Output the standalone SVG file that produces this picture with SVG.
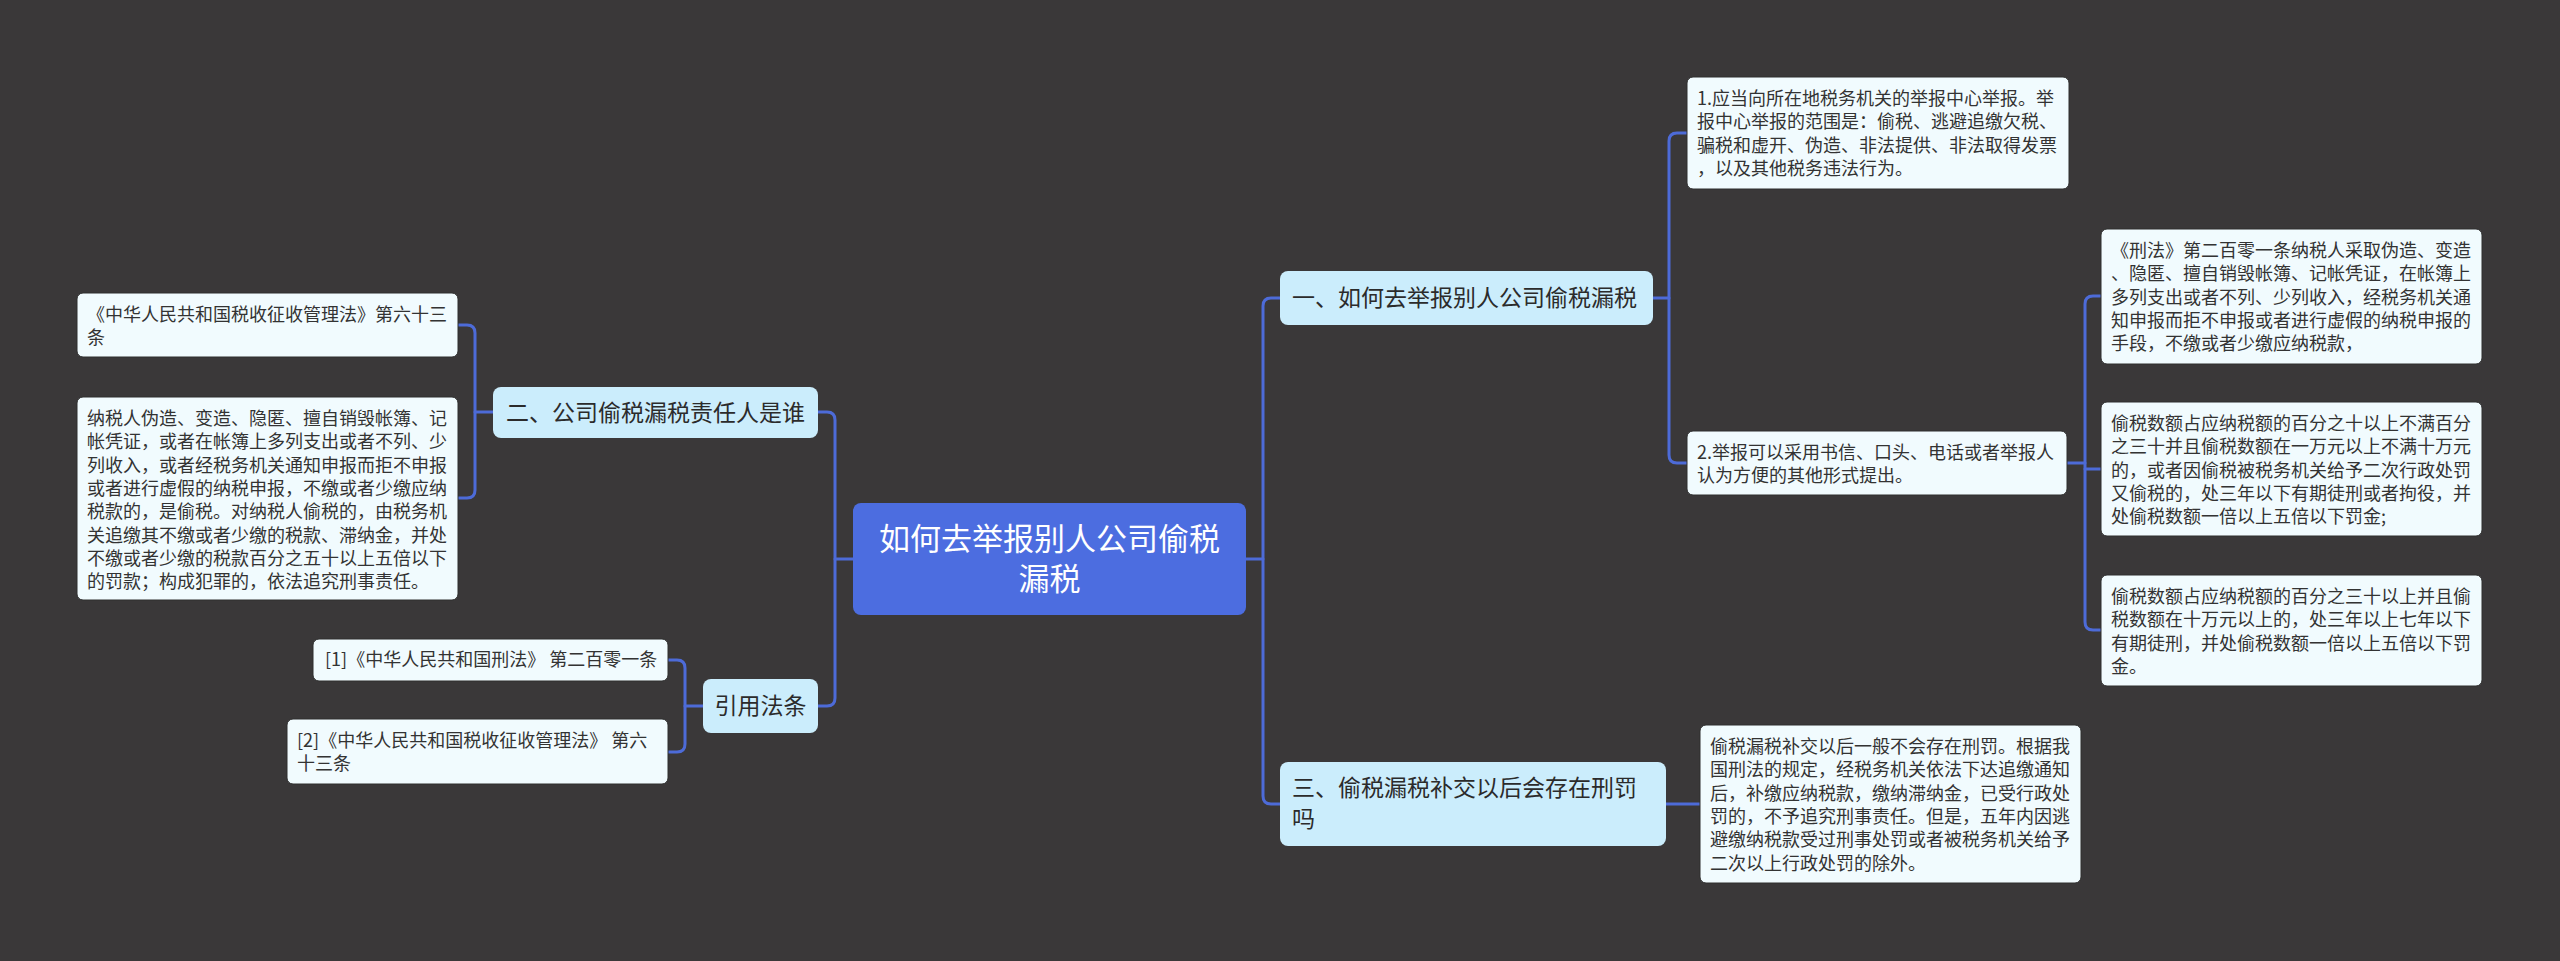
<svg xmlns="http://www.w3.org/2000/svg" width="2560" height="961" viewBox="0 0 2560 961">
<style>
.bg{fill:#3a3839}
.conn path{fill:none;stroke:#4d6bd8;stroke-width:3;stroke-linecap:round}
.root rect{fill:#4c6de0}
.root text{fill:#ffffff;font-size:31px;text-anchor:middle}
.branch rect{fill:#cbedfc}
.branch text{fill:#2b2b2b;font-size:23px}
.leaf rect{fill:#f1fbfe;stroke:#2f2f2f;stroke-width:1}
.leaf text{fill:#333333;font-size:18px}
text{font-family:"Noto Sans CJK SC","Noto Sans",sans-serif}
</style>
<rect class="bg" x="0" y="0" width="2560" height="961"/>
<g class="conn" id="connectors">
<path d="M853,559 H835"/>
<path d="M818,412 H827 Q835,412 835,420 V698 Q835,706 827,706 H818"/>
<path d="M493,412 H475"/>
<path d="M458,325 H467 Q475,325 475,333 V490 Q475,498 467,498 H458"/>
<path d="M703,706 H685"/>
<path d="M668,660 H677 Q685,660 685,668 V744 Q685,752 677,752 H668"/>
<path d="M1246,559 H1263"/>
<path d="M1280,298 H1271 Q1263,298 1263,306 V796 Q1263,804 1271,804 H1280"/>
<path d="M1653,298 H1669"/>
<path d="M1687,133 H1677 Q1669,133 1669,141 V455 Q1669,463 1677,463 H1687"/>
<path d="M2067,463 H2085"/>
<path d="M2101,296 H2093 Q2085,296 2085,304 V622 Q2085,630 2093,630 H2101"/>
<path d="M2085,469 H2101"/>
<path d="M1666,804 H1700"/>
</g>
<g class="root" id="root">
<rect x="853" y="503" width="393" height="112" rx="8"/>
<text x="1049.5" y="550">如何去举报别人公司偷税</text>
<text x="1049.5" y="590">漏税</text>
</g>
<g class="branch" id="b2">
<rect x="493" y="387" width="325" height="51" rx="8"/>
<text x="506" y="421">二、公司偷税漏税责任人是谁</text>
</g>
<g class="branch" id="bref">
<rect x="703" y="679" width="115" height="54" rx="8"/>
<text x="760.5" y="714" text-anchor="middle">引用法条</text>
</g>
<g class="branch" id="b1">
<rect x="1280" y="271" width="373" height="54" rx="8"/>
<text x="1292" y="306">一、如何去举报别人公司偷税漏税</text>
</g>
<g class="branch" id="b3">
<rect x="1280" y="762" width="386" height="84" rx="8"/>
<text x="1292" y="796">三、偷税漏税补交以后会存在刑罚</text>
<text x="1292" y="827">吗</text>
</g>
<g class="leaf" id="l2a">
<rect x="77" y="293" width="381" height="64" rx="6"/>
<text x="87" y="321">《中华人民共和国税收征收管理法》第六十三</text>
<text x="87" y="344.3">条</text>
</g>
<g class="leaf" id="l2b">
<rect x="77" y="397" width="381" height="203" rx="6"/>
<text x="87" y="425">纳税人伪造、变造、隐匿、擅自销毁帐簿、记</text>
<text x="87" y="448.3">帐凭证，或者在帐簿上多列支出或者不列、少</text>
<text x="87" y="471.6">列收入，或者经税务机关通知申报而拒不申报</text>
<text x="87" y="494.9">或者进行虚假的纳税申报，不缴或者少缴应纳</text>
<text x="87" y="518.2">税款的，是偷税。对纳税人偷税的，由税务机</text>
<text x="87" y="541.5">关追缴其不缴或者少缴的税款、滞纳金，并处</text>
<text x="87" y="564.8">不缴或者少缴的税款百分之五十以上五倍以下</text>
<text x="87" y="588.1">的罚款；构成犯罪的，依法追究刑事责任。</text>
</g>
<g class="leaf" id="lr1">
<rect x="313" y="639" width="355" height="42" rx="6"/>
<text x="325" y="666">[1]《中华人民共和国刑法》 第二百零一条</text>
</g>
<g class="leaf" id="lr2">
<rect x="287" y="719" width="381" height="65" rx="6"/>
<text x="297" y="747">[2]《中华人民共和国税收征收管理法》 第六</text>
<text x="297" y="770.3">十三条</text>
</g>
<g class="leaf" id="l11">
<rect x="1687" y="77" width="382" height="112" rx="6"/>
<text x="1697" y="105">1.应当向所在地税务机关的举报中心举报。举</text>
<text x="1697" y="128.3">报中心举报的范围是：偷税、逃避追缴欠税、</text>
<text x="1697" y="151.6">骗税和虚开、伪造、非法提供、非法取得发票</text>
<text x="1697" y="174.9">，以及其他税务违法行为。</text>
</g>
<g class="leaf" id="l12">
<rect x="1687" y="431" width="380" height="64" rx="6"/>
<text x="1697" y="459">2.举报可以采用书信、口头、电话或者举报人</text>
<text x="1697" y="482.3">认为方便的其他形式提出。</text>
</g>
<g class="leaf" id="l121">
<rect x="2101" y="229" width="381" height="135" rx="6"/>
<text x="2111" y="257">《刑法》第二百零一条纳税人采取伪造、变造</text>
<text x="2111" y="280.3">、隐匿、擅自销毁帐簿、记帐凭证，在帐簿上</text>
<text x="2111" y="303.6">多列支出或者不列、少列收入，经税务机关通</text>
<text x="2111" y="326.9">知申报而拒不申报或者进行虚假的纳税申报的</text>
<text x="2111" y="350.2">手段，不缴或者少缴应纳税款，</text>
</g>
<g class="leaf" id="l122">
<rect x="2101" y="402" width="381" height="134" rx="6"/>
<text x="2111" y="430">偷税数额占应纳税额的百分之十以上不满百分</text>
<text x="2111" y="453.3">之三十并且偷税数额在一万元以上不满十万元</text>
<text x="2111" y="476.6">的，或者因偷税被税务机关给予二次行政处罚</text>
<text x="2111" y="499.9">又偷税的，处三年以下有期徒刑或者拘役，并</text>
<text x="2111" y="523.2">处偷税数额一倍以上五倍以下罚金;</text>
</g>
<g class="leaf" id="l123">
<rect x="2101" y="575" width="381" height="111" rx="6"/>
<text x="2111" y="603">偷税数额占应纳税额的百分之三十以上并且偷</text>
<text x="2111" y="626.3">税数额在十万元以上的，处三年以上七年以下</text>
<text x="2111" y="649.6">有期徒刑，并处偷税数额一倍以上五倍以下罚</text>
<text x="2111" y="672.9">金。</text>
</g>
<g class="leaf" id="l31">
<rect x="1700" y="725" width="381" height="158" rx="6"/>
<text x="1710" y="753">偷税漏税补交以后一般不会存在刑罚。根据我</text>
<text x="1710" y="776.3">国刑法的规定，经税务机关依法下达追缴通知</text>
<text x="1710" y="799.6">后，补缴应纳税款，缴纳滞纳金，已受行政处</text>
<text x="1710" y="822.9">罚的，不予追究刑事责任。但是，五年内因逃</text>
<text x="1710" y="846.2">避缴纳税款受过刑事处罚或者被税务机关给予</text>
<text x="1710" y="869.5">二次以上行政处罚的除外。</text>
</g>
</svg>
